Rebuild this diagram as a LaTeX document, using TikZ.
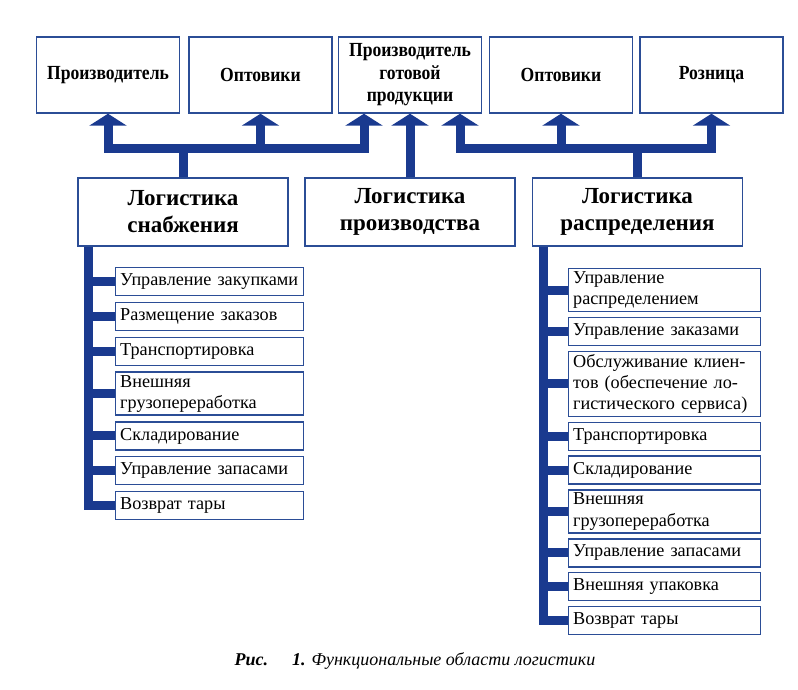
\documentclass[tikz,border=0pt]{standalone}
\usepackage{fontspec}
\setmainfont{Liberation Serif}
\newfontfamily\headfont{Liberation Serif}[FakeStretch=0.88]
\usepackage{tikz}
\usetikzlibrary{arrows.meta,positioning}
\definecolor{LogBlue}{HTML}{1A3A8F}
\definecolor{LogEdge}{HTML}{2B4D96}

\begin{document}
\begin{tikzpicture}[x=0.5pt,y=-0.5pt,>={Triangle[width=18.5pt,length=6pt]},
  flow/.style={LogBlue,line width=4.5pt},
  topbox/.style={draw=LogEdge,line width=0.7pt,fill=white,minimum width=71.5pt,
    minimum height=38pt,inner sep=1pt,align=center,
    font=\headfont\bfseries\fontsize{10}{11.2}\selectfont},
  areabox/.style={draw=LogEdge,line width=0.7pt,fill=white,minimum width=105pt,
    minimum height=34pt,inner sep=1pt,align=center,font=\bfseries\fontsize{11.5}{13.5}\selectfont},
  taskbox/.style={draw=LogEdge,line width=0.7pt,fill=white,text width=89.5pt,
    inner xsep=2.25pt,inner ysep=1.5pt,minimum height=14pt,align=left,
    font=\fontsize{9.1}{10.6}\selectfont}]
  \useasboundingbox (0,0) rectangle (798,690);
  % upper row
  \foreach \n/\x/\t in {proizv/108/Производитель,opt1/260.5/Оптовики,
      prodg/410/{Производитель\\готовой\\продукции},opt2/561/Оптовики,rozn/711.5/Розница}
    \node[topbox] (\n) at (\x,75) {\t};
  % functional areas
  \node[areabox] (snab) at (183,212) {Логистика\\снабжения};
  \node[areabox] (proizl) at (410,212) {Логистика\\производства};
  \node[areabox] (raspr) at (637.5,212) {Логистика\\распределения};
  % links to the upper row
  \coordinate (lj) at ([yshift=14.5pt]snab.north);
  \coordinate (rj) at ([yshift=14.5pt]raspr.north);
  \draw[flow] (snab.north) -- (lj);
  \draw[flow,<->] (proizv.south) |- (lj) -| ([xshift=-23pt]prodg.south);
  \draw[flow,->] (lj -| opt1.south) -- (opt1.south);
  \draw[flow,->] (proizl.north) -- (prodg.south);
  \draw[flow] (raspr.north) -- (rj);
  \draw[flow,<->] ([xshift=25pt]prodg.south) |- (rj) -| (rozn.south);
  \draw[flow,->] (rj -| opt2.south) -- (opt2.south);
  % supply tasks
  \node[taskbox,anchor=north west] (s1) at (115,267) {Управление закупками};
  \foreach \i/\j/\t in {2/1/{Размещение заказов},3/2/Транспортировка,
      4/3/{Внешняя\\грузопереработка},5/4/Складирование,
      6/5/{Управление запасами},7/6/{Возврат тары}}
    \node[taskbox,below=2.7pt of s\j] (s\i) {\t};
  \coordinate (lsp) at ([xshift=5.5pt]snab.south west);
  \draw[flow] (lsp) |- (s7.west);
  \foreach \i in {1,...,6}
    \draw[flow] (s\i.west) -- (s\i.west -| lsp);
  % distribution tasks
  \node[taskbox,text width=91.5pt,anchor=north west] (r1) at (568,268)
    {Управление\\распределением};
  \foreach \i/\j/\t in {2/1/{Управление заказами},
      3/2/{Обслуживание клиен-\\тов (обеспечение ло-\\гистического сервиса)},
      4/3/Транспортировка,5/4/Складирование,6/5/{Внешняя\\грузопереработка},
      7/6/{Управление запасами},8/7/{Внешняя упаковка},9/8/{Возврат тары}}
    \node[taskbox,text width=91.5pt,below=2.2pt of r\j] (r\i) {\t};
  \coordinate (rsp) at ([xshift=6pt]raspr.south west);
  \draw[flow] (rsp) |- (r9.west);
  \foreach \i in {1,...,8}
    \draw[flow] (r\i.west) -- (r\i.west -| rsp);
  % caption
  \node[font=\itshape\fontsize{9}{11}\selectfont] (cap) at (415,661)
    {\textbf{Рис.}\hspace{12pt}\textbf{1.} Функциональные области логистики};
\end{tikzpicture}
\end{document}
